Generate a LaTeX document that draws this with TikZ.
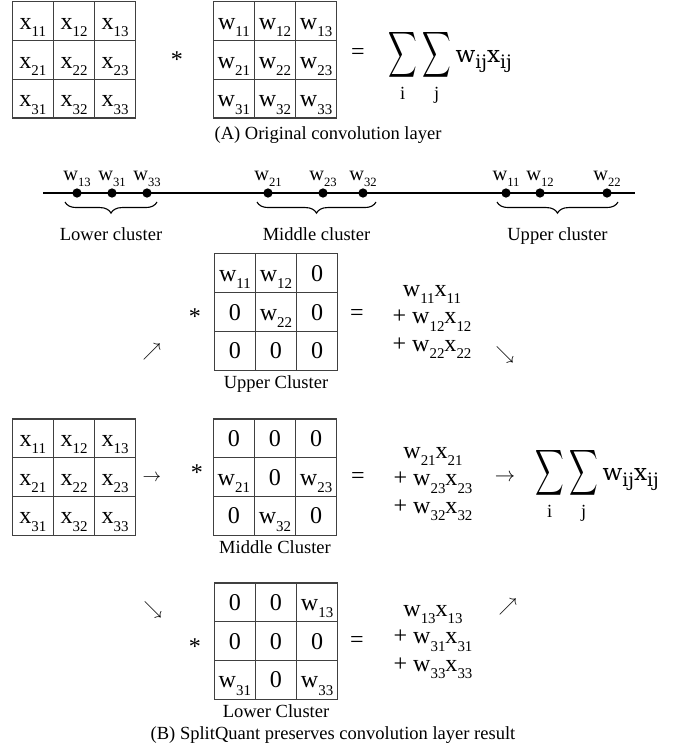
\documentclass[tikz,border=0pt]{standalone}
\usepackage{amsmath}
\usepackage{fontspec}
\setmainfont{Liberation Serif}
\newfontfamily\eqfont{DejaVu Serif}
\usetikzlibrary{matrix,positioning,calc,decorations.pathreplacing}

\newcommand{\idx}[2]{#1\raisebox{-0.3em}{\scalebox{0.62}{#2}}}
\newcommand{\eqidx}[2]{#1\raisebox{-0.25em}{\scalebox{0.8}{#2}}}
\newcommand{\bigsig}{\scalebox{0.62}[1]{$\displaystyle\sum$}}
\newcommand{\sumlim}[1]{\mbox{\fontsize{10}{12}\selectfont #1}}
\newcommand{\sumwx}{{\fontsize{18.5}{20}\selectfont$\displaystyle\mathop{\bigsig}\limits_{\sumlim{i}}\mathop{\bigsig}\limits_{\sumlim{j}}$}\hspace{2.5pt}{\eqfont\fontsize{12.5}{14}\selectfont\eqidx{w}{ij}\eqidx{x}{ij}}}

\begin{document}
\begin{tikzpicture}[x=0.54pt, y=-0.54pt,
          cell/.style={draw=black!75, line width=0.6pt, minimum width=22.2pt, minimum height=20.9pt, inner sep=0pt, text height=8.8pt, text depth=0pt, font=\fontsize{13}{15}\selectfont},
          mat/.style={matrix of nodes, nodes={cell}, column sep=-0.6pt, row sep=-0.6pt, inner sep=0pt},
          op/.style={font=\fontsize{13}{15}\selectfont},
          terms/.style={align=center, font=\fontsize{13}{15}\selectfont},
          arr/.style={font=\fontsize{10}{12}\selectfont},
          sumf/.style={inner sep=0pt},
          dot/.style={circle, fill, inner sep=0pt, minimum size=5pt},
          wlbl/.style={inner sep=0.5pt, label distance=0pt, font=\fontsize{11}{13}\selectfont},
          brace/.style={decorate, decoration={brace, mirror, amplitude=6pt}, line width=0.6pt},
          axis/.style={line width=1.3pt}
        ]
          \useasboundingbox (0,0) rectangle (692,750);

          % (A) Original convolution layer
          \matrix[mat] (xa) at (74,60) {
            \idx{x}{11} & \idx{x}{12} & \idx{x}{13} \\
            \idx{x}{21} & \idx{x}{22} & \idx{x}{23} \\
            \idx{x}{31} & \idx{x}{32} & \idx{x}{33} \\
          };
          \node[op] (sta) at (177,60) {*};
          \matrix[mat] (wa) at (275,60) {
            \idx{w}{11} & \idx{w}{12} & \idx{w}{13} \\
            \idx{w}{21} & \idx{w}{22} & \idx{w}{23} \\
            \idx{w}{31} & \idx{w}{32} & \idx{w}{33} \\
          };
          \node[op] (eqa) at (358,54) {=};
          \node[sumf] (suma) at (450,68) {\sumwx};
          \node (capa) at (328,135) {(A) Original convolution layer};

          % Weight axis with the three clusters
          \coordinate (la) at (43,193);
          \coordinate (lb) at (635,193);
          \draw[axis] (la) -- (lb);
          \node[dot, label={[wlbl]above:\idx{w}{13}}] (d13) at (77,193) {};
          \node[dot, label={[wlbl]above:\idx{w}{31}}] (d31) at (112,193) {};
          \node[dot, label={[wlbl]above:\idx{w}{33}}] (d33) at (147,193) {};
          \node[dot, label={[wlbl]above:\idx{w}{21}}] (d21) at (268,193) {};
          \node[dot, label={[wlbl]above:\idx{w}{23}}] (d23) at (323,193) {};
          \node[dot, label={[wlbl]above:\idx{w}{32}}] (d32) at (363,193) {};
          \node[dot, label={[wlbl]above:\idx{w}{11}}] (d11) at (506,193) {};
          \node[dot, label={[wlbl]above:\idx{w}{12}}] (d12) at (540,193) {};
          \node[dot, label={[wlbl]above:\idx{w}{22}}] (d22) at (607,193) {};

          % Braces under each cluster
          \draw[brace] ($(d13)+(-12,9)$) -- ($(d33)+(10,9)$) node[midway, below=10pt] (lowc) {Lower cluster};
          \draw[brace] ($(d21)+(-11,9)$) -- ($(d32)+(13,9)$) node[midway, below=10pt] (midc) {Middle cluster};
          \draw[brace] ($(d11)+(-9,9)$) -- ($(d22)+(11,9)$) node[midway, below=10pt] (uppc) {Upper cluster};

          % Upper cluster row
          \node[arr] (nea) at (152,352) {$\nearrow$};
          \node[op] (stu) at (195,317) {*};
          \matrix[mat] (wu) at (276,312) {
            \idx{w}{11} & \idx{w}{12} & 0 \\
            0 & \idx{w}{22} & 0 \\
            0 & 0 & 0 \\
          };
          \node[below=-1pt of wu] (wul) {Upper Cluster};
          \node[op] (equ) at (357,315) {=};
          \node[terms] (tu) at (432,322) {\idx{w}{11}\idx{x}{11}\\+ \idx{w}{12}\idx{x}{12}\\+ \idx{w}{22}\idx{x}{22}};
          \node[arr] (sea) at (505,355) {$\searrow$};

          % Middle cluster row
          \matrix[mat] (xm) at (74,477) {
            \idx{x}{11} & \idx{x}{12} & \idx{x}{13} \\
            \idx{x}{21} & \idx{x}{22} & \idx{x}{23} \\
            \idx{x}{31} & \idx{x}{32} & \idx{x}{33} \\
          };
          \node[arr] (ra) at (152,478) {$\rightarrow$};
          \node[op] (stm) at (197,473) {*};
          \matrix[mat] (wm) at (275,477) {
            0 & 0 & 0 \\
            \idx{w}{21} & 0 & \idx{w}{23} \\
            0 & \idx{w}{32} & 0 \\
          };
          \node[below=-1pt of wm] (wml) {Middle Cluster};
          \node[op] (eqm) at (358,478) {=};
          \node[terms] (tm) at (433,484) {\idx{w}{21}\idx{x}{21}\\+ \idx{w}{23}\idx{x}{23}\\+ \idx{w}{32}\idx{x}{32}};
          \node[arr, font=\fontsize{11}{13}\selectfont] (rb) at (505,478) {$\rightarrow$};
          \node[sumf] (sumb) at (597,486) {\sumwx};

          % Lower cluster row
          \node[arr] (seb) at (153,610) {$\searrow$};
          \node[op] (stl) at (195,647) {*};
          \matrix[mat] (wl) at (276,641) {
            0 & 0 & \idx{w}{13} \\
            0 & 0 & 0 \\
            \idx{w}{31} & 0 & \idx{w}{33} \\
          };
          \node[below=-1pt of wl] (wll) {Lower Cluster};
          \node[op] (eql) at (357,642) {=};
          \node[terms] (tl) at (433,642) {\idx{w}{13}\idx{x}{13}\\+ \idx{w}{31}\idx{x}{31}\\+ \idx{w}{33}\idx{x}{33}};
          \node[arr] (neb) at (508,607) {$\nearrow$};

          \node (capb) at (333,735) {(B) SplitQuant preserves convolution layer result};

        \end{tikzpicture}
\end{document}
